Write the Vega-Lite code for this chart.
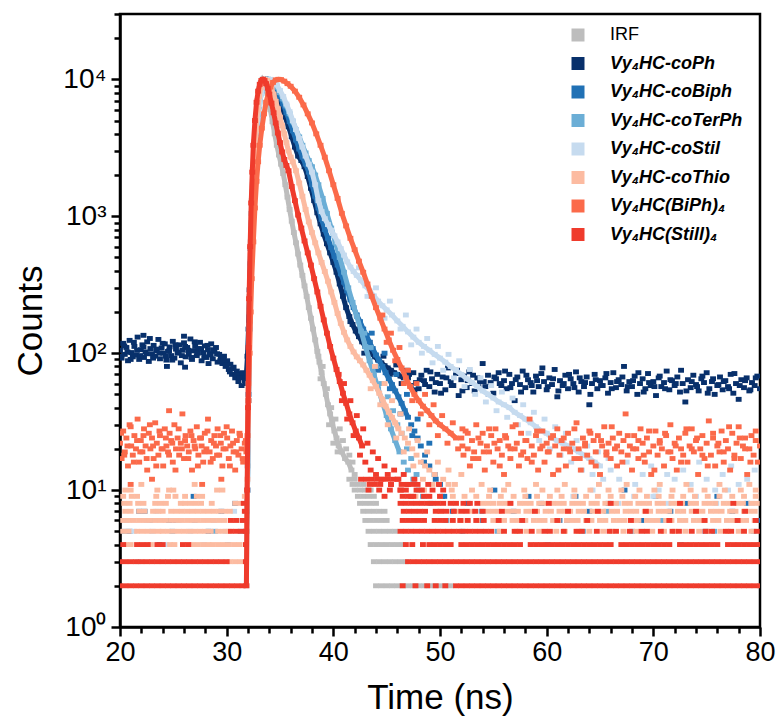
{
"$schema": "https://vega.github.io/schema/vega-lite/v6.json",
"width": 640, "height": 613,
"autosize": {"type": "none"},
"padding": {"left": 120, "top": 14, "right": 17, "bottom": 92},
"background": "white",
"config": {
 "view": {"stroke": "black", "strokeWidth": 2.5},
 "font": "Liberation Sans",
 "axis": {"domainColor": "black", "domainWidth": 2.5, "tickColor": "black", "tickWidth": 2.5, "labelColor": "black", "titleColor": "black", "grid": false, "labelFont": "Liberation Sans", "titleFont": "Liberation Sans", "titleFontWeight": "normal"}
},
"datasets": {
"irf_d": [{"t":31.85,"c":2},{"t":31.95,"c":15},{"t":32.05,"c":80},{"t":32.15,"c":260},{"t":32.25,"c":650},{"t":32.35,"c":1300},{"t":32.45,"c":2200},{"t":32.6,"c":3500},{"t":32.75,"c":5200},{"t":32.9,"c":7000},{"t":33.05,"c":8500},{"t":33.2,"c":9500},{"t":33.35,"c":10000},{"t":33.5,"c":9600},{"t":33.7,"c":8500},{"t":33.9,"c":7200},{"t":34.1,"c":6000},{"t":34.3,"c":4900},{"t":34.5,"c":4000},{"t":34.7,"c":3300},{"t":34.9,"c":2800},{"t":35.1,"c":2400},{"t":35.3,"c":2050},{"t":35.5,"c":1700},{"t":35.7,"c":1380},{"t":35.9,"c":1120},{"t":36.1,"c":920},{"t":36.3,"c":760},{"t":36.5,"c":640},{"t":36.7,"c":530},{"t":36.9,"c":440},{"t":37.1,"c":370},{"t":37.3,"c":310},{"t":37.5,"c":260},{"t":37.7,"c":215},{"t":37.9,"c":180},{"t":38.1,"c":150},{"t":38.3,"c":125},{"t":38.5,"c":103},{"t":38.7,"c":86},{"t":38.9,"c":72},{"t":39.1,"c":60},{"t":39.3,"c":50},{"t":39.5,"c":42},{"t":39.7,"c":36},{"t":39.9,"c":31},{"t":40.1,"c":27},{"t":40.3,"c":24},{"t":40.5,"c":21},{"t":40.8,"c":19},{"t":41.1,"c":17},{"t":41.4,"c":16},{"t":41.7,"c":14}],
"irf": [{"t":42,"c":13},{"t":38.6,"c":95},{"t":38.8,"c":65},{"t":39,"c":80},{"t":39.4,"c":55},{"t":39.6,"c":30},{"t":39.8,"c":40},{"t":40,"c":22},{"t":40.2,"c":33},{"t":40.4,"c":19},{"t":40.6,"c":28},{"t":40.9,"c":23},{"t":41.2,"c":20},{"t":41.5,"c":18},{"t":41.8,"c":16},
{"t":41.5,"c":12},{"t":42,"c":12},{"t":41.8,"c":11},{"t":42.3,"c":11},{"t":42.8,"c":11},{"t":42,"c":10},{"t":42.5,"c":10},{"t":43,"c":10},{"t":43.5,"c":10},{"t":42.3,"c":9},{"t":42.8,"c":9},{"t":43.3,"c":9},{"t":43.8,"c":9},{"t":42.5,"c":8},{"t":43,"c":8},{"t":43.5,"c":8},{"t":44,"c":8},{"t":42.8,"c":7},{"t":43.3,"c":7},{"t":43.8,"c":7},{"t":44.3,"c":7},{"t":44.8,"c":7},{"t":43,"c":6},{"t":43.5,"c":6},{"t":44,"c":6},{"t":44.5,"c":6},{"t":45,"c":6},{"t":43.3,"c":5},{"t":43.8,"c":5},{"t":44.3,"c":5},{"t":44.8,"c":5},{"t":45.3,"c":5},{"t":45.8,"c":5},{"t":43.5,"c":4},{"t":44,"c":4},{"t":44.5,"c":4},{"t":45,"c":4},{"t":45.5,"c":4},{"t":46,"c":4},{"t":46.5,"c":4},{"t":43.8,"c":3},{"t":44.3,"c":3},{"t":44.8,"c":3},{"t":45.3,"c":3},{"t":45.8,"c":3},{"t":46.3,"c":3},{"t":46.8,"c":3},{"t":44,"c":2},{"t":44.5,"c":2},{"t":45,"c":2},{"t":45.5,"c":2},{"t":46,"c":2},{"t":46.5,"c":2},{"t":47,"c":2},{"t":47.5,"c":2},{"t":48,"c":2},{"t":48.5,"c":2},{"t":49,"c":2},{"t":49.5,"c":2},{"t":50,"c":2},{"t":50.5,"c":2},{"t":51,"c":2}],
"ph_d": [{"t":31.85,"c":70},{"t":31.95,"c":95},{"t":32.05,"c":150},{"t":32.15,"c":290},{"t":32.25,"c":580},{"t":32.35,"c":1050},{"t":32.5,"c":1900},{"t":32.65,"c":3100},{"t":32.8,"c":4600},{"t":32.95,"c":6100},{"t":33.1,"c":7500},{"t":33.3,"c":8900},{"t":33.5,"c":9700},{"t":33.7,"c":10000},{"t":34,"c":9800},{"t":34.3,"c":9100},{"t":34.6,"c":8200},{"t":34.9,"c":7200},{"t":35.2,"c":6200},{"t":35.5,"c":5300},{"t":35.8,"c":4500},{"t":36.1,"c":3800},{"t":36.4,"c":3200},{"t":36.7,"c":2750},{"t":37,"c":2550},{"t":37.3,"c":2300},{"t":37.6,"c":1950},{"t":37.9,"c":1600},{"t":38.2,"c":1300},{"t":38.5,"c":1060},{"t":38.8,"c":880},{"t":39.1,"c":740},{"t":39.4,"c":630},{"t":39.7,"c":540},{"t":40,"c":460},{"t":40.3,"c":390},{"t":40.6,"c":320},{"t":40.9,"c":260},{"t":41.2,"c":215},{"t":41.5,"c":185},{"t":41.8,"c":162},{"t":42.1,"c":145},{"t":42.4,"c":132},{"t":42.7,"c":121},{"t":43,"c":112},{"t":43.3,"c":105},{"t":43.6,"c":99},{"t":43.9,"c":94},{"t":44.2,"c":89},{"t":44.5,"c":85},{"t":44.8,"c":81},{"t":45.1,"c":78},{"t":45.4,"c":75},{"t":45.7,"c":72},{"t":46,"c":70},{"t":46.3,"c":68},{"t":46.6,"c":66}],
"ph": [{"t":20,"c":105},{"t":20.15,"c":92},{"t":20.3,"c":118},{"t":20.45,"c":98},{"t":20.6,"c":110},{"t":20.75,"c":88},{"t":20.9,"c":124},{"t":21.05,"c":101},{"t":21.2,"c":94},{"t":21.35,"c":112},{"t":21.5,"c":97},{"t":21.65,"c":131},{"t":21.8,"c":90},{"t":21.95,"c":106},{"t":22.1,"c":115},{"t":22.25,"c":93},{"t":22.4,"c":102},{"t":22.55,"c":121},{"t":22.7,"c":87},{"t":22.85,"c":108},{"t":23,"c":99},{"t":23.15,"c":114},{"t":23.3,"c":95},{"t":23.45,"c":104},{"t":23.6,"c":126},{"t":23.75,"c":91},{"t":23.9,"c":109},{"t":24.05,"c":100},{"t":24.2,"c":117},{"t":24.35,"c":89},{"t":24.5,"c":103},{"t":24.65,"c":111},{"t":24.8,"c":96},{"t":24.95,"c":122},{"t":25.1,"c":92},{"t":25.25,"c":107},{"t":25.4,"c":100},{"t":25.55,"c":115},{"t":25.7,"c":85},{"t":25.85,"c":105},{"t":26,"c":119},{"t":26.15,"c":94},{"t":26.3,"c":110},{"t":26.45,"c":98},{"t":26.6,"c":127},{"t":26.75,"c":90},{"t":26.9,"c":104},{"t":27.05,"c":112},{"t":27.2,"c":96},{"t":27.35,"c":108},{"t":27.5,"c":120},{"t":27.65,"c":88},{"t":27.8,"c":101},{"t":27.95,"c":113},{"t":28.1,"c":93},{"t":28.25,"c":106},{"t":28.4,"c":99},{"t":28.55,"c":117},{"t":28.7,"c":91},{"t":28.85,"c":103},{"t":29,"c":110},{"t":29.15,"c":86},{"t":29.3,"c":98},{"t":29.45,"c":92},{"t":29.6,"c":84},{"t":29.75,"c":95},{"t":29.9,"c":80},{"t":30.05,"c":88},{"t":30.2,"c":76},{"t":30.35,"c":83},{"t":30.5,"c":70},{"t":30.65,"c":79},{"t":30.8,"c":66},{"t":30.95,"c":74},{"t":31.1,"c":62},{"t":31.25,"c":71},{"t":31.4,"c":58},{"t":31.55,"c":67},{"t":31.7,"c":63},{"t":22.2,"c":135},{"t":26,"c":133},{"t":26.1,"c":79},{"t":24.4,"c":80},{"t":28.3,"c":84},
{"t":20.1,"c":95},{"t":20.4,"c":113},{"t":20.7,"c":102},{"t":21,"c":90},{"t":21.3,"c":120},{"t":21.6,"c":105},{"t":21.9,"c":96},{"t":22.2,"c":111},{"t":22.5,"c":99},{"t":22.8,"c":128},{"t":23.1,"c":92},{"t":23.4,"c":107},{"t":23.7,"c":100},{"t":24,"c":118},{"t":24.3,"c":95},{"t":24.6,"c":104},{"t":24.9,"c":89},{"t":25.2,"c":115},{"t":25.5,"c":102},{"t":25.8,"c":96},{"t":26.1,"c":112},{"t":26.4,"c":105},{"t":26.7,"c":93},{"t":27,"c":121},{"t":27.3,"c":100},{"t":27.6,"c":108},{"t":27.9,"c":94},{"t":28.2,"c":114},{"t":28.5,"c":97},{"t":28.8,"c":106},{"t":29.1,"c":99},{"t":29.4,"c":88},{"t":29.7,"c":90},{"t":30,"c":82},{"t":30.3,"c":73},{"t":30.6,"c":77},{"t":30.9,"c":69},{"t":31.2,"c":66},{"t":31.5,"c":72},{"t":31.8,"c":60},
{"t":41,"c":280},{"t":41.6,"c":170},{"t":42.2,"c":150},{"t":42.9,"c":100},{"t":43.4,"c":120},{"t":44,"c":80},{"t":44.7,"c":95},{"t":45.3,"c":70},{"t":45.9,"c":82},{"t":46.4,"c":60},{"t":46.9,"c":75},
{"t":47,"c":66},{"t":47.25,"c":58},{"t":47.5,"c":72},{"t":47.75,"c":61},{"t":48,"c":55},{"t":48.25,"c":69},{"t":48.5,"c":63},{"t":48.75,"c":75},{"t":49,"c":57},{"t":49.25,"c":65},{"t":49.5,"c":52},{"t":49.75,"c":70},{"t":50,"c":60},{"t":50.25,"c":67},{"t":50.5,"c":54},{"t":50.75,"c":78},{"t":51,"c":62},{"t":51.25,"c":58},{"t":51.5,"c":71},{"t":51.75,"c":49},{"t":52,"c":64},{"t":52.25,"c":68},{"t":52.5,"c":56},{"t":52.75,"c":73},{"t":53,"c":60},{"t":53.25,"c":53},{"t":53.5,"c":66},{"t":53.75,"c":62},{"t":54,"c":84},{"t":54.25,"c":57},{"t":54.5,"c":69},{"t":54.75,"c":61},{"t":55,"c":51},{"t":55.25,"c":65},{"t":55.5,"c":72},{"t":55.75,"c":58},{"t":56,"c":63},{"t":56.25,"c":55},{"t":56.5,"c":70},{"t":56.75,"c":60},{"t":57,"c":45},{"t":57.25,"c":67},{"t":57.5,"c":59},{"t":57.75,"c":74},{"t":58,"c":56},{"t":58.25,"c":64},{"t":58.5,"c":61},{"t":58.75,"c":52},{"t":59,"c":68},{"t":59.25,"c":57},{"t":59.5,"c":71},{"t":59.75,"c":62},{"t":60,"c":54},{"t":60.25,"c":66},{"t":60.5,"c":59},{"t":60.75,"c":76},{"t":61,"c":48},{"t":61.25,"c":63},{"t":61.5,"c":58},{"t":61.75,"c":69},{"t":62,"c":55},{"t":62.25,"c":65},{"t":62.5,"c":60},{"t":62.75,"c":73},{"t":63,"c":52},{"t":63.25,"c":62},{"t":63.5,"c":57},{"t":63.75,"c":67},{"t":64,"c":42},{"t":64.25,"c":60},{"t":64.5,"c":70},{"t":64.75,"c":55},{"t":65,"c":63},{"t":65.25,"c":58},{"t":65.5,"c":66},{"t":65.75,"c":51},{"t":66,"c":61},{"t":66.25,"c":72},{"t":66.5,"c":56},{"t":66.75,"c":64},{"t":67,"c":59},{"t":67.25,"c":80},{"t":67.5,"c":53},{"t":67.75,"c":62},{"t":68,"c":57},{"t":68.25,"c":68},{"t":68.5,"c":50},{"t":68.75,"c":60},{"t":69,"c":65},{"t":69.25,"c":55},{"t":69.5,"c":71},{"t":69.75,"c":58},{"t":70,"c":62},{"t":70.25,"c":49},{"t":70.5,"c":66},{"t":70.75,"c":57},{"t":71,"c":61},{"t":71.25,"c":74},{"t":71.5,"c":54},{"t":71.75,"c":63},{"t":72,"c":58},{"t":72.25,"c":67},{"t":72.5,"c":52},{"t":72.75,"c":60},{"t":73,"c":44},{"t":73.25,"c":64},{"t":73.5,"c":56},{"t":73.75,"c":69},{"t":74,"c":59},{"t":74.25,"c":53},{"t":74.5,"c":65},{"t":74.75,"c":61},{"t":75,"c":72},{"t":75.25,"c":55},{"t":75.5,"c":62},{"t":75.75,"c":50},{"t":76,"c":58},{"t":76.25,"c":67},{"t":76.5,"c":54},{"t":76.75,"c":63},{"t":77,"c":57},{"t":77.25,"c":70},{"t":77.5,"c":51},{"t":77.75,"c":60},{"t":78,"c":46},{"t":78.25,"c":64},{"t":78.5,"c":56},{"t":78.75,"c":66},{"t":79,"c":53},{"t":79.25,"c":61},{"t":79.5,"c":58},{"t":79.75,"c":68},{"t":80,"c":55},
{"t":47.1,"c":70},{"t":47.6,"c":54},{"t":48.1,"c":64},{"t":48.6,"c":59},{"t":49.1,"c":73},{"t":49.6,"c":61},{"t":50.1,"c":51},{"t":50.6,"c":66},{"t":51.1,"c":58},{"t":51.6,"c":75},{"t":52.1,"c":53},{"t":52.6,"c":63},{"t":53.1,"c":69},{"t":53.6,"c":57},{"t":54.1,"c":62},{"t":54.6,"c":50},{"t":55.1,"c":67},{"t":55.6,"c":60},{"t":56.1,"c":74},{"t":56.6,"c":56},{"t":57.1,"c":64},{"t":57.6,"c":52},{"t":58.1,"c":69},{"t":58.6,"c":58},{"t":59.1,"c":63},{"t":59.6,"c":78},{"t":60.1,"c":57},{"t":60.6,"c":65},{"t":61.1,"c":53},{"t":61.6,"c":60},{"t":62.1,"c":70},{"t":62.6,"c":56},{"t":63.1,"c":66},{"t":63.6,"c":61},{"t":64.1,"c":50},{"t":64.6,"c":64},{"t":65.1,"c":58},{"t":65.6,"c":71},{"t":66.1,"c":55},{"t":66.6,"c":62},{"t":67.1,"c":67},{"t":67.6,"c":57},{"t":68.1,"c":63},{"t":68.6,"c":72},{"t":69.1,"c":52},{"t":69.6,"c":61},{"t":70.1,"c":57},{"t":70.6,"c":68},{"t":71.1,"c":55},{"t":71.6,"c":64},{"t":72.1,"c":60},{"t":72.6,"c":75},{"t":73.1,"c":53},{"t":73.6,"c":62},{"t":74.1,"c":57},{"t":74.6,"c":68},{"t":75.1,"c":51},{"t":75.6,"c":65},{"t":76.1,"c":59},{"t":76.6,"c":62},{"t":77.1,"c":55},{"t":77.6,"c":71},{"t":78.1,"c":58},{"t":78.6,"c":63},{"t":79.1,"c":54},{"t":79.6,"c":66}],
"bi_d": [{"t":31.85,"c":7},{"t":31.95,"c":10},{"t":32.05,"c":50},{"t":32.15,"c":170},{"t":32.25,"c":450},{"t":32.35,"c":900},{"t":32.45,"c":1500},{"t":32.6,"c":2500},{"t":32.75,"c":3900},{"t":32.9,"c":5400},{"t":33.05,"c":6800},{"t":33.25,"c":8200},{"t":33.45,"c":9200},{"t":33.65,"c":9800},{"t":33.85,"c":10000},{"t":34.1,"c":9800},{"t":34.4,"c":9200},{"t":34.7,"c":8400},{"t":35,"c":7500},{"t":35.3,"c":6600},{"t":35.6,"c":5700},{"t":35.9,"c":4900},{"t":36.2,"c":4200},{"t":36.5,"c":3600},{"t":36.8,"c":3100},{"t":37.1,"c":2700},{"t":37.4,"c":2400},{"t":37.7,"c":2100},{"t":38,"c":1700},{"t":38.3,"c":1400},{"t":38.6,"c":1150},{"t":38.9,"c":950},{"t":39.2,"c":800},{"t":39.5,"c":690},{"t":39.8,"c":590},{"t":40.1,"c":510},{"t":40.4,"c":440},{"t":40.7,"c":380},{"t":41,"c":330},{"t":41.3,"c":285},{"t":41.6,"c":245},{"t":41.9,"c":215},{"t":42.2,"c":190},{"t":42.5,"c":170},{"t":42.8,"c":150},{"t":43.1,"c":135},{"t":43.4,"c":120},{"t":43.7,"c":108},{"t":44,"c":97},{"t":44.3,"c":88},{"t":44.6,"c":80},{"t":44.9,"c":72},{"t":45.2,"c":65},{"t":45.5,"c":59},{"t":45.8,"c":53},{"t":46.1,"c":48},{"t":46.4,"c":43},{"t":46.7,"c":38},{"t":47,"c":34}],
"bi": [{"t":20.9,"c":5},{"t":21.8,"c":7},{"t":22.3,"c":7},{"t":23.7,"c":4},{"t":24.6,"c":6},{"t":25.2,"c":6},{"t":26.9,"c":9},{"t":28.3,"c":5},{"t":29.5,"c":7},{"t":30.8,"c":8},{"t":31.6,"c":6},
{"t":47.3,"c":30},{"t":47.6,"c":27},{"t":47.9,"c":24},{"t":48.2,"c":21},{"t":48.6,"c":18},{"t":49,"c":15},{"t":49.5,"c":13},{"t":50,"c":11},{"t":43.6,"c":140},{"t":44.2,"c":75},{"t":44.8,"c":100},{"t":45.3,"c":55},{"t":45.9,"c":70},{"t":46.3,"c":36},{"t":46.9,"c":50},{"t":47.4,"c":25},{"t":47.9,"c":33},{"t":48.5,"c":16},{"t":49,"c":22},{"t":49.6,"c":12},{"t":50.2,"c":9},
{"t":50.4,"c":9},{"t":51.2,"c":7},{"t":52.6,"c":8},{"t":53.8,"c":6},{"t":55.1,"c":10},{"t":56.9,"c":7},{"t":58.3,"c":9},{"t":59.5,"c":8},{"t":61.2,"c":6},{"t":62.7,"c":9},{"t":64,"c":7},{"t":65.8,"c":8},{"t":67.3,"c":10},{"t":68.9,"c":6},{"t":70.2,"c":9},{"t":71.6,"c":7},{"t":73.1,"c":8},{"t":74.9,"c":5},{"t":76,"c":9},{"t":77.4,"c":7},{"t":78.8,"c":8},{"t":79.9,"c":6}],
"te_d": [{"t":31.85,"c":5},{"t":31.95,"c":10},{"t":32.05,"c":45},{"t":32.15,"c":150},{"t":32.25,"c":400},{"t":32.35,"c":800},{"t":32.45,"c":1350},{"t":32.6,"c":2300},{"t":32.75,"c":3600},{"t":32.9,"c":5000},{"t":33.05,"c":6400},{"t":33.25,"c":7900},{"t":33.45,"c":9000},{"t":33.65,"c":9700},{"t":33.85,"c":10000},{"t":34.1,"c":9900},{"t":34.4,"c":9500},{"t":34.7,"c":8800},{"t":35,"c":8000},{"t":35.3,"c":7200},{"t":35.6,"c":6400},{"t":35.9,"c":5600},{"t":36.2,"c":4900},{"t":36.5,"c":4300},{"t":36.8,"c":3800},{"t":37.1,"c":3300},{"t":37.4,"c":2900},{"t":37.7,"c":2550},{"t":38,"c":2300},{"t":38.3,"c":2000},{"t":38.6,"c":1700},{"t":39,"c":1350},{"t":39.4,"c":1050},{"t":39.8,"c":820},{"t":40.2,"c":640},{"t":40.6,"c":500},{"t":41,"c":390},{"t":41.4,"c":300},{"t":41.8,"c":235},{"t":42.2,"c":185},{"t":42.6,"c":145},{"t":43,"c":112},{"t":43.4,"c":88},{"t":43.8,"c":70},{"t":44.2,"c":55},{"t":44.6,"c":44},{"t":45,"c":35},{"t":45.4,"c":28},{"t":45.8,"c":23},{"t":46.2,"c":19}],
"te": [{"t":20.4,"c":5},{"t":22.8,"c":6},{"t":24.9,"c":5},{"t":27,"c":6},{"t":28.9,"c":5},{"t":30.1,"c":4},{"t":31.3,"c":5},
{"t":46.6,"c":16},{"t":47,"c":14},{"t":47.5,"c":12},{"t":48,"c":10},{"t":42.9,"c":140},{"t":43.5,"c":110},{"t":44,"c":80},{"t":44.5,"c":60},{"t":45.1,"c":48},{"t":45.6,"c":38},{"t":46,"c":30},{"t":46.4,"c":26},{"t":46.9,"c":20},{"t":47.3,"c":17},{"t":47.8,"c":13},{"t":48.4,"c":9},{"t":49.1,"c":8},
{"t":50.6,"c":6},{"t":52.1,"c":5},{"t":53.9,"c":7},{"t":55.4,"c":5},{"t":57.8,"c":6},{"t":60.1,"c":4},{"t":61.9,"c":6},{"t":63.4,"c":5},{"t":65.6,"c":7},{"t":68,"c":5},{"t":70.9,"c":6},{"t":72.6,"c":4},{"t":75.7,"c":5},{"t":77.9,"c":6},{"t":79.4,"c":5}],
"sl_d": [{"t":31.85,"c":6},{"t":31.95,"c":10},{"t":32.05,"c":45},{"t":32.15,"c":160},{"t":32.25,"c":420},{"t":32.35,"c":850},{"t":32.45,"c":1400},{"t":32.6,"c":2400},{"t":32.75,"c":3700},{"t":32.9,"c":5100},{"t":33.05,"c":6500},{"t":33.25,"c":7900},{"t":33.45,"c":8900},{"t":33.65,"c":9500},{"t":33.85,"c":9900},{"t":34.1,"c":10000},{"t":34.4,"c":9700},{"t":34.7,"c":9100},{"t":35,"c":8300},{"t":35.3,"c":7500},{"t":35.6,"c":6600},{"t":35.9,"c":5800},{"t":36.2,"c":5000},{"t":36.5,"c":4300},{"t":36.8,"c":3700},{"t":37.1,"c":3200},{"t":37.4,"c":2750},{"t":37.7,"c":2400},{"t":38,"c":2100},{"t":38.3,"c":1700},{"t":38.6,"c":1300},{"t":38.9,"c":1080},{"t":39.2,"c":960},{"t":39.5,"c":870},{"t":39.8,"c":790},{"t":40.1,"c":720},{"t":40.4,"c":650},{"t":40.7,"c":580},{"t":41,"c":520},{"t":41.3,"c":465},{"t":41.6,"c":425},{"t":41.9,"c":395},{"t":42.2,"c":370},{"t":42.6,"c":340},{"t":43,"c":310},{"t":43.4,"c":285},{"t":43.8,"c":262},{"t":44.2,"c":240},{"t":44.6,"c":222},{"t":45,"c":207},{"t":45.5,"c":190},{"t":46,"c":172},{"t":46.5,"c":157},{"t":47,"c":143},{"t":47.5,"c":131},{"t":48,"c":120},{"t":48.5,"c":112},{"t":49,"c":105},{"t":49.5,"c":98},{"t":50,"c":92},{"t":50.5,"c":86},{"t":51,"c":80},{"t":51.5,"c":75},{"t":52,"c":70},{"t":52.5,"c":65},{"t":53,"c":61},{"t":53.5,"c":57},{"t":54,"c":53},{"t":54.5,"c":50},{"t":55,"c":47},{"t":55.5,"c":44},{"t":56,"c":42},{"t":56.5,"c":40},{"t":57,"c":37},{"t":57.5,"c":35},{"t":58,"c":33},{"t":58.5,"c":31},{"t":59,"c":29},{"t":59.5,"c":27},{"t":60,"c":26},{"t":60.5,"c":24},{"t":61,"c":23},{"t":61.5,"c":22},{"t":62,"c":21},{"t":62.5,"c":20},{"t":63,"c":19},{"t":63.5,"c":18},{"t":64,"c":17},{"t":64.5,"c":16},{"t":65,"c":15}],
"sl": [{"t":20.6,"c":6},{"t":21.3,"c":5},{"t":21.7,"c":3},{"t":22.5,"c":6},{"t":23,"c":5},{"t":23.4,"c":7},{"t":24.3,"c":4},{"t":25.5,"c":6},{"t":26.6,"c":5},{"t":27.9,"c":4},{"t":28.8,"c":6},{"t":29.9,"c":5},{"t":30.7,"c":7},{"t":31.5,"c":6},
{"t":42.4,"c":420},{"t":43.2,"c":260},{"t":44,"c":300},{"t":44.8,"c":180},{"t":45.3,"c":240},{"t":46.3,"c":150},{"t":46.8,"c":190},{"t":47.3,"c":115},{"t":47.8,"c":150},{"t":48.3,"c":100},{"t":48.8,"c":128},{"t":49.3,"c":85},{"t":49.8,"c":112},{"t":50.3,"c":75},{"t":50.8,"c":98},{"t":51.3,"c":66},{"t":51.8,"c":88},{"t":52.3,"c":57},{"t":52.8,"c":76},{"t":53.3,"c":50},{"t":53.8,"c":66},{"t":54.3,"c":44},{"t":54.8,"c":58},{"t":55.3,"c":38},{"t":55.8,"c":52},{"t":56.3,"c":34},{"t":56.8,"c":47},{"t":57.3,"c":30},{"t":57.8,"c":42},{"t":58.3,"c":26},{"t":58.8,"c":37},{"t":59.3,"c":23},{"t":59.8,"c":33},{"t":60.3,"c":20},{"t":60.8,"c":29},{"t":61.3,"c":18},{"t":61.8,"c":26},{"t":62.3,"c":16},{"t":62.8,"c":23},{"t":63.3,"c":14},{"t":63.8,"c":21},{"t":64.3,"c":13},{"t":64.8,"c":19},{"t":65.3,"c":12},{"t":65.8,"c":17},
{"t":66,"c":14},{"t":66.8,"c":12},{"t":67.5,"c":16},{"t":68.3,"c":11},{"t":69,"c":13},{"t":69.8,"c":15},{"t":70.5,"c":10},{"t":71.3,"c":13},{"t":72,"c":12},{"t":72.8,"c":14},{"t":73.5,"c":11},{"t":74.3,"c":16},{"t":75,"c":12},{"t":75.8,"c":10},{"t":76.5,"c":13},{"t":77.3,"c":15},{"t":78,"c":11},{"t":78.8,"c":12},{"t":79.5,"c":14},{"t":62.5,"c":9},{"t":64.3,"c":10},{"t":68.2,"c":9},{"t":71.4,"c":8},{"t":74,"c":9},{"t":77,"c":10},{"t":79.2,"c":8},{"t":66.7,"c":8},{"t":70,"c":9},{"t":75.9,"c":8}],
"th_d": [{"t":31.85,"c":5},{"t":31.95,"c":12},{"t":32.05,"c":60},{"t":32.15,"c":200},{"t":32.25,"c":520},{"t":32.35,"c":1000},{"t":32.45,"c":1700},{"t":32.6,"c":2800},{"t":32.75,"c":4300},{"t":32.9,"c":6000},{"t":33.05,"c":7500},{"t":33.2,"c":8700},{"t":33.4,"c":9600},{"t":33.6,"c":10000},{"t":33.8,"c":9800},{"t":34,"c":9300},{"t":34.2,"c":8600},{"t":34.4,"c":7800},{"t":34.6,"c":6900},{"t":34.8,"c":6100},{"t":35,"c":5300},{"t":35.2,"c":4600},{"t":35.4,"c":4000},{"t":35.6,"c":3450},{"t":35.8,"c":3000},{"t":36,"c":2700},{"t":36.2,"c":2500},{"t":36.5,"c":2150},{"t":36.8,"c":1750},{"t":37.1,"c":1400},{"t":37.4,"c":1120},{"t":37.7,"c":910},{"t":38,"c":760},{"t":38.3,"c":640},{"t":38.6,"c":540},{"t":38.9,"c":460},{"t":39.2,"c":395},{"t":39.5,"c":335},{"t":39.8,"c":280},{"t":40.1,"c":235},{"t":40.4,"c":195},{"t":40.7,"c":165},{"t":41,"c":142},{"t":41.3,"c":125},{"t":41.6,"c":112},{"t":41.9,"c":102},{"t":42.2,"c":94},{"t":42.5,"c":88},{"t":42.8,"c":82},{"t":43.1,"c":75},{"t":43.4,"c":69},{"t":43.7,"c":63},{"t":44,"c":57},{"t":44.3,"c":51},{"t":44.6,"c":46},{"t":44.9,"c":41},{"t":45.2,"c":37},{"t":45.5,"c":34},{"t":45.8,"c":31},{"t":46.1,"c":28}],
"th": [{"t":22,"c":11},{"t":27,"c":11},{"t":20.5,"c":10},{"t":21,"c":10},{"t":23.5,"c":10},{"t":24.6,"c":10},{"t":25,"c":10},{"t":29.1,"c":10},{"t":29.6,"c":10},{"t":20.3,"c":9},{"t":21.1,"c":9},{"t":21.6,"c":9},{"t":23.4,"c":9},{"t":24.5,"c":9},{"t":25.2,"c":9},{"t":26.1,"c":9},{"t":27.2,"c":9},{"t":27.7,"c":9},{"t":31.7,"c":9},{"t":20.4,"c":8},{"t":20.9,"c":8},{"t":21.7,"c":8},{"t":22.2,"c":8},{"t":23.3,"c":8},{"t":23.8,"c":8},{"t":24.3,"c":8},{"t":25.7,"c":8},{"t":26.1,"c":8},{"t":26.6,"c":8},{"t":27.1,"c":8},{"t":27.6,"c":8},{"t":28.6,"c":8},{"t":30.8,"c":8},{"t":31.3,"c":8},{"t":20.5,"c":7},{"t":21,"c":7},{"t":21.8,"c":7},{"t":22.3,"c":7},{"t":23.1,"c":7},{"t":23.6,"c":7},{"t":24,"c":7},{"t":24.8,"c":7},{"t":25.3,"c":7},{"t":25.8,"c":7},{"t":26.3,"c":7},{"t":26.8,"c":7},{"t":27.3,"c":7},{"t":27.8,"c":7},{"t":28.3,"c":7},{"t":28.8,"c":7},{"t":29.3,"c":7},{"t":29.8,"c":7},{"t":30.3,"c":7},{"t":20.3,"c":6},{"t":20.8,"c":6},{"t":21.3,"c":6},{"t":21.8,"c":6},{"t":22.3,"c":6},{"t":22.8,"c":6},{"t":23.3,"c":6},{"t":23.8,"c":6},{"t":24.3,"c":6},{"t":24.8,"c":6},{"t":25.3,"c":6},{"t":25.8,"c":6},{"t":26.3,"c":6},{"t":26.8,"c":6},{"t":27.3,"c":6},{"t":27.8,"c":6},{"t":28.3,"c":6},{"t":28.8,"c":6},{"t":29.3,"c":6},{"t":29.8,"c":6},{"t":20.3,"c":5},{"t":20.8,"c":5},{"t":21.6,"c":5},{"t":22.1,"c":5},{"t":22.6,"c":5},{"t":23.1,"c":5},{"t":23.6,"c":5},{"t":24,"c":5},{"t":24.5,"c":5},{"t":25,"c":5},{"t":25.5,"c":5},{"t":26,"c":5},{"t":26.5,"c":5},{"t":27,"c":5},{"t":27.5,"c":5},{"t":28,"c":5},{"t":28.5,"c":5},{"t":29.2,"c":5},{"t":29.7,"c":5},{"t":30.2,"c":5},{"t":20.6,"c":4},{"t":21,"c":4},{"t":22.9,"c":4},{"t":24.7,"c":4},{"t":25.1,"c":4},{"t":26.8,"c":4},{"t":27.3,"c":4},{"t":27.8,"c":4},{"t":28.3,"c":4},{"t":28.7,"c":4},{"t":29.2,"c":4},{"t":29.7,"c":4},{"t":30.2,"c":4},{"t":30.7,"c":4},{"t":31.2,"c":4},{"t":30.3,"c":3},{"t":30.8,"c":3},{"t":31.3,"c":3},
{"t":46.4,"c":26},{"t":46.7,"c":24},{"t":47,"c":22},{"t":47.4,"c":20},{"t":47.8,"c":18},{"t":48.2,"c":16},{"t":48.6,"c":15},{"t":49,"c":14},{"t":49.5,"c":13},{"t":43.5,"c":55},{"t":43.9,"c":80},{"t":44.4,"c":42},{"t":44.8,"c":60},{"t":45.1,"c":30},{"t":45.5,"c":45},{"t":45.9,"c":24},{"t":46.3,"c":36},{"t":46.6,"c":19},{"t":47.1,"c":28},{"t":47.5,"c":15},{"t":47.9,"c":23},{"t":48.4,"c":12},{"t":48.8,"c":19},{"t":49.3,"c":11},{"t":49.8,"c":16},{"t":50.3,"c":12},{"t":50.8,"c":14},{"t":51.4,"c":11},{"t":52,"c":13},
{"t":50.8,"c":11},{"t":53.9,"c":11},{"t":56.4,"c":11},{"t":59,"c":11},{"t":61.7,"c":11},{"t":64.9,"c":11},{"t":67.5,"c":11},{"t":70.6,"c":11},{"t":73.1,"c":11},{"t":76.2,"c":11},{"t":79,"c":11},{"t":48.5,"c":10},{"t":51.1,"c":10},{"t":53,"c":10},{"t":54.7,"c":10},{"t":56,"c":10},{"t":57.9,"c":10},{"t":59.6,"c":10},{"t":61,"c":10},{"t":62.6,"c":10},{"t":64.1,"c":10},{"t":65.8,"c":10},{"t":67,"c":10},{"t":68.7,"c":10},{"t":70.1,"c":10},{"t":71.8,"c":10},{"t":73.5,"c":10},{"t":74.8,"c":10},{"t":76.7,"c":10},{"t":78.2,"c":10},{"t":79.6,"c":10},{"t":47.7,"c":9},{"t":48.9,"c":9},{"t":50,"c":9},{"t":51.2,"c":9},{"t":52.3,"c":9},{"t":53.4,"c":9},{"t":54.6,"c":9},{"t":55.7,"c":9},{"t":56.9,"c":9},{"t":58,"c":9},{"t":59.1,"c":9},{"t":60.3,"c":9},{"t":61.4,"c":9},{"t":62.6,"c":9},{"t":63.7,"c":9},{"t":64.8,"c":9},{"t":66,"c":9},{"t":67.1,"c":9},{"t":68.3,"c":9},{"t":69.4,"c":9},{"t":70.5,"c":9},{"t":71.7,"c":9},{"t":72.8,"c":9},{"t":73.9,"c":9},{"t":75.1,"c":9},{"t":76.2,"c":9},{"t":77.4,"c":9},{"t":78.5,"c":9},{"t":79.6,"c":9},{"t":54,"c":8},{"t":54.5,"c":8},{"t":55,"c":8},{"t":55.6,"c":8},{"t":56.1,"c":8},{"t":56.6,"c":8},{"t":57.5,"c":8},{"t":58,"c":8},{"t":58.5,"c":8},{"t":59.3,"c":8},{"t":59.8,"c":8},{"t":60.6,"c":8},{"t":61.1,"c":8},{"t":61.6,"c":8},{"t":62.4,"c":8},{"t":62.9,"c":8},{"t":63.4,"c":8},{"t":64.2,"c":8},{"t":64.7,"c":8},{"t":65.5,"c":8},{"t":66,"c":8},{"t":66.5,"c":8},{"t":67.3,"c":8},{"t":67.8,"c":8},{"t":68.6,"c":8},{"t":69.1,"c":8},{"t":69.6,"c":8},{"t":70.4,"c":8},{"t":70.9,"c":8},{"t":71.7,"c":8},{"t":72.2,"c":8},{"t":72.7,"c":8},{"t":73.5,"c":8},{"t":74,"c":8},{"t":74.8,"c":8},{"t":75.3,"c":8},{"t":75.8,"c":8},{"t":76.6,"c":8},{"t":77.1,"c":8},{"t":77.9,"c":8},{"t":78.4,"c":8},{"t":79.2,"c":8},{"t":79.7,"c":8},{"t":50,"c":7},{"t":51.5,"c":7},{"t":53,"c":7},{"t":54.5,"c":7},{"t":55,"c":7},{"t":55.5,"c":7},{"t":56.3,"c":7},{"t":56.8,"c":7},{"t":57.3,"c":7},{"t":58.1,"c":7},{"t":58.6,"c":7},{"t":59.1,"c":7},{"t":59.9,"c":7},{"t":60.4,"c":7},{"t":61.2,"c":7},{"t":61.7,"c":7},{"t":62.2,"c":7},{"t":63,"c":7},{"t":63.5,"c":7},{"t":64.3,"c":7},{"t":64.8,"c":7},{"t":65.3,"c":7},{"t":66.1,"c":7},{"t":66.6,"c":7},{"t":67.4,"c":7},{"t":67.9,"c":7},{"t":68.4,"c":7},{"t":69.2,"c":7},{"t":69.7,"c":7},{"t":70.5,"c":7},{"t":71,"c":7},{"t":71.5,"c":7},{"t":72.3,"c":7},{"t":72.8,"c":7},{"t":73.6,"c":7},{"t":74.1,"c":7},{"t":74.6,"c":7},{"t":75.4,"c":7},{"t":75.9,"c":7},{"t":76.4,"c":7},{"t":77.2,"c":7},{"t":77.7,"c":7},{"t":78.5,"c":7},{"t":79,"c":7},{"t":79.5,"c":7},{"t":52,"c":6},{"t":53.5,"c":6},{"t":55,"c":6},{"t":55.5,"c":6},{"t":56,"c":6},{"t":56.8,"c":6},{"t":57.3,"c":6},{"t":58,"c":6},{"t":58.8,"c":6},{"t":59.3,"c":6},{"t":59.8,"c":6},{"t":60.6,"c":6},{"t":61.1,"c":6},{"t":61.9,"c":6},{"t":62.4,"c":6},{"t":62.9,"c":6},{"t":63.7,"c":6},{"t":64.2,"c":6},{"t":65,"c":6},{"t":65.5,"c":6},{"t":66.3,"c":6},{"t":66.8,"c":6},{"t":67.3,"c":6},{"t":68.1,"c":6},{"t":68.6,"c":6},{"t":69.4,"c":6},{"t":69.9,"c":6},{"t":70.4,"c":6},{"t":71.2,"c":6},{"t":71.7,"c":6},{"t":72.5,"c":6},{"t":73,"c":6},{"t":73.8,"c":6},{"t":74.3,"c":6},{"t":74.8,"c":6},{"t":75.6,"c":6},{"t":76.1,"c":6},{"t":76.9,"c":6},{"t":77.4,"c":6},{"t":78.2,"c":6},{"t":78.7,"c":6},{"t":79.5,"c":6},{"t":55.6,"c":5},{"t":57.2,"c":5},{"t":58.1,"c":5},{"t":59.3,"c":5},{"t":60.9,"c":5},{"t":61.7,"c":5},{"t":63,"c":5},{"t":64,"c":5},{"t":65.3,"c":5},{"t":66.1,"c":5},{"t":67.2,"c":5},{"t":68.4,"c":5},{"t":69.9,"c":5},{"t":71,"c":5},{"t":72,"c":5},{"t":73,"c":5},{"t":74.3,"c":5},{"t":75,"c":5},{"t":76.3,"c":5},{"t":77,"c":5},{"t":78,"c":5},{"t":79.2,"c":5}],
"b4_d": [{"t":31.85,"c":19},{"t":31.95,"c":25},{"t":32.05,"c":45},{"t":32.15,"c":100},{"t":32.25,"c":200},{"t":32.35,"c":350},{"t":32.5,"c":650},{"t":32.65,"c":1150},{"t":32.8,"c":1800},{"t":32.95,"c":2500},{"t":33.1,"c":3300},{"t":33.3,"c":4400},{"t":33.5,"c":5600},{"t":33.7,"c":6800},{"t":33.9,"c":7900},{"t":34.1,"c":8800},{"t":34.35,"c":9500},{"t":34.6,"c":9900},{"t":34.85,"c":10000},{"t":35.1,"c":9950},{"t":35.4,"c":9700},{"t":35.7,"c":9300},{"t":36,"c":8900},{"t":36.4,"c":8200},{"t":36.8,"c":7400},{"t":37.2,"c":6500},{"t":37.6,"c":5600},{"t":38,"c":4800},{"t":38.4,"c":4000},{"t":38.8,"c":3300},{"t":39.2,"c":2700},{"t":39.6,"c":2150},{"t":40,"c":1700},{"t":40.4,"c":1350},{"t":40.8,"c":1050},{"t":41.2,"c":850},{"t":41.6,"c":690},{"t":42,"c":570},{"t":42.4,"c":470},{"t":42.8,"c":390},{"t":43.2,"c":320},{"t":43.6,"c":260},{"t":44,"c":215},{"t":44.4,"c":180},{"t":44.8,"c":150},{"t":45.2,"c":125},{"t":45.6,"c":105},{"t":46,"c":90},{"t":46.4,"c":78},{"t":46.8,"c":66},{"t":47.2,"c":57},{"t":47.6,"c":50},{"t":48,"c":45},{"t":48.4,"c":41},{"t":48.8,"c":38},{"t":49.2,"c":35},{"t":49.6,"c":32},{"t":50,"c":30},{"t":50.5,"c":28},{"t":51,"c":26},{"t":51.5,"c":24}],
"b4": [{"t":20,"c":22},{"t":20.15,"c":17},{"t":20.3,"c":27},{"t":20.45,"c":19},{"t":20.6,"c":24},{"t":20.75,"c":15},{"t":20.9,"c":30},{"t":21.05,"c":21},{"t":21.2,"c":18},{"t":21.35,"c":25},{"t":21.5,"c":20},{"t":21.65,"c":33},{"t":21.8,"c":16},{"t":21.95,"c":23},{"t":22.1,"c":19},{"t":22.25,"c":28},{"t":22.4,"c":21},{"t":22.55,"c":14},{"t":22.7,"c":26},{"t":22.85,"c":20},{"t":23,"c":24},{"t":23.15,"c":17},{"t":23.3,"c":31},{"t":23.45,"c":22},{"t":23.6,"c":18},{"t":23.75,"c":25},{"t":23.9,"c":20},{"t":24.05,"c":15},{"t":24.2,"c":28},{"t":24.35,"c":21},{"t":24.5,"c":19},{"t":24.65,"c":26},{"t":24.8,"c":23},{"t":24.95,"c":16},{"t":25.1,"c":30},{"t":25.25,"c":20},{"t":25.4,"c":24},{"t":25.55,"c":18},{"t":25.7,"c":22},{"t":25.85,"c":36},{"t":26,"c":17},{"t":26.15,"c":25},{"t":26.3,"c":21},{"t":26.45,"c":19},{"t":26.6,"c":27},{"t":26.75,"c":14},{"t":26.9,"c":23},{"t":27.05,"c":20},{"t":27.2,"c":29},{"t":27.35,"c":18},{"t":27.5,"c":24},{"t":27.65,"c":21},{"t":27.8,"c":16},{"t":27.95,"c":26},{"t":28.1,"c":20},{"t":28.25,"c":33},{"t":28.4,"c":19},{"t":28.55,"c":23},{"t":28.7,"c":17},{"t":28.85,"c":25},{"t":29,"c":21},{"t":29.15,"c":28},{"t":29.3,"c":18},{"t":29.45,"c":22},{"t":29.6,"c":15},{"t":29.75,"c":26},{"t":29.9,"c":20},{"t":30.05,"c":24},{"t":30.2,"c":17},{"t":30.35,"c":21},{"t":30.5,"c":27},{"t":30.65,"c":19},{"t":30.8,"c":14},{"t":30.95,"c":23},{"t":31.1,"c":18},{"t":31.25,"c":25},{"t":31.4,"c":20},{"t":31.55,"c":16},{"t":31.7,"c":22},{"t":21,"c":11},{"t":23,"c":12},{"t":27.7,"c":11},{"t":29.5,"c":12},{"t":24.6,"c":38},
{"t":20.1,"c":26},{"t":20.4,"c":18},{"t":20.7,"c":21},{"t":21,"c":29},{"t":21.3,"c":16},{"t":21.6,"c":23},{"t":21.9,"c":19},{"t":22.2,"c":25},{"t":22.5,"c":17},{"t":22.8,"c":30},{"t":23.1,"c":21},{"t":23.4,"c":15},{"t":23.7,"c":27},{"t":24,"c":20},{"t":24.3,"c":24},{"t":24.6,"c":18},{"t":24.9,"c":22},{"t":25.2,"c":14},{"t":25.5,"c":28},{"t":25.8,"c":20},{"t":26.1,"c":23},{"t":26.4,"c":17},{"t":26.7,"c":25},{"t":27,"c":21},{"t":27.3,"c":15},{"t":27.6,"c":24},{"t":27.9,"c":19},{"t":28.2,"c":27},{"t":28.5,"c":16},{"t":28.8,"c":22},{"t":29.1,"c":18},{"t":29.4,"c":25},{"t":29.7,"c":20},{"t":30,"c":29},{"t":30.3,"c":15},{"t":30.6,"c":22},{"t":30.9,"c":19},{"t":31.2,"c":26},{"t":31.5,"c":17},{"t":31.8,"c":23},
{"t":44.6,"c":190},{"t":45,"c":120},{"t":45.4,"c":140},{"t":45.8,"c":88},{"t":46.2,"c":110},{"t":46.6,"c":60},{"t":47,"c":75},{"t":47.4,"c":45},{"t":47.8,"c":60},{"t":48.2,"c":36},{"t":48.6,"c":50},{"t":49,"c":30},{"t":49.4,"c":42},{"t":49.8,"c":25},{"t":50.2,"c":35},{"t":50.7,"c":22},{"t":51.2,"c":31},{"t":51.7,"c":20},{"t":52.1,"c":28},
{"t":52,"c":24},{"t":52.2,"c":18},{"t":52.4,"c":27},{"t":52.6,"c":20},{"t":52.8,"c":15},{"t":53,"c":23},{"t":53.2,"c":19},{"t":53.4,"c":30},{"t":53.6,"c":17},{"t":53.8,"c":22},{"t":54,"c":26},{"t":54.2,"c":14},{"t":54.4,"c":21},{"t":54.6,"c":19},{"t":54.8,"c":25},{"t":55,"c":16},{"t":55.2,"c":28},{"t":55.4,"c":20},{"t":55.6,"c":23},{"t":55.8,"c":18},{"t":56,"c":13},{"t":56.2,"c":24},{"t":56.4,"c":21},{"t":56.6,"c":17},{"t":56.8,"c":29},{"t":57,"c":20},{"t":57.2,"c":22},{"t":57.4,"c":15},{"t":57.6,"c":26},{"t":57.8,"c":19},{"t":58,"c":23},{"t":58.2,"c":17},{"t":58.4,"c":33},{"t":58.6,"c":21},{"t":58.8,"c":18},{"t":59,"c":25},{"t":59.2,"c":14},{"t":59.4,"c":20},{"t":59.6,"c":27},{"t":59.8,"c":16},{"t":60,"c":22},{"t":60.2,"c":19},{"t":60.4,"c":24},{"t":60.6,"c":13},{"t":60.8,"c":21},{"t":61,"c":28},{"t":61.2,"c":18},{"t":61.4,"c":23},{"t":61.6,"c":20},{"t":61.8,"c":15},{"t":62,"c":26},{"t":62.2,"c":19},{"t":62.4,"c":22},{"t":62.6,"c":17},{"t":62.8,"c":31},{"t":63,"c":20},{"t":63.2,"c":14},{"t":63.4,"c":24},{"t":63.6,"c":21},{"t":63.8,"c":18},{"t":64,"c":27},{"t":64.2,"c":16},{"t":64.4,"c":23},{"t":64.6,"c":19},{"t":64.8,"c":25},{"t":65,"c":13},{"t":65.2,"c":21},{"t":65.4,"c":29},{"t":65.6,"c":18},{"t":65.8,"c":22},{"t":66,"c":17},{"t":66.2,"c":24},{"t":66.4,"c":20},{"t":66.6,"c":15},{"t":66.8,"c":26},{"t":67,"c":19},{"t":67.2,"c":23},{"t":67.4,"c":36},{"t":67.6,"c":18},{"t":67.8,"c":21},{"t":68,"c":14},{"t":68.2,"c":25},{"t":68.4,"c":20},{"t":68.6,"c":17},{"t":68.8,"c":28},{"t":69,"c":22},{"t":69.2,"c":16},{"t":69.4,"c":24},{"t":69.6,"c":19},{"t":69.8,"c":13},{"t":70,"c":21},{"t":70.2,"c":27},{"t":70.4,"c":18},{"t":70.6,"c":23},{"t":70.8,"c":20},{"t":71,"c":15},{"t":71.2,"c":25},{"t":71.4,"c":19},{"t":71.6,"c":30},{"t":71.8,"c":17},{"t":72,"c":22},{"t":72.2,"c":14},{"t":72.4,"c":24},{"t":72.6,"c":20},{"t":72.8,"c":18},{"t":73,"c":26},{"t":73.2,"c":16},{"t":73.4,"c":21},{"t":73.6,"c":28},{"t":73.8,"c":19},{"t":74,"c":23},{"t":74.2,"c":13},{"t":74.4,"c":20},{"t":74.6,"c":25},{"t":74.8,"c":17},{"t":75,"c":22},{"t":75.2,"c":32},{"t":75.4,"c":18},{"t":75.6,"c":24},{"t":75.8,"c":15},{"t":76,"c":21},{"t":76.2,"c":19},{"t":76.4,"c":27},{"t":76.6,"c":16},{"t":76.8,"c":23},{"t":77,"c":20},{"t":77.2,"c":14},{"t":77.4,"c":26},{"t":77.6,"c":18},{"t":77.8,"c":22},{"t":78,"c":29},{"t":78.2,"c":17},{"t":78.4,"c":21},{"t":78.6,"c":24},{"t":78.8,"c":13},{"t":79,"c":20},{"t":79.2,"c":25},{"t":79.4,"c":18},{"t":79.6,"c":23},{"t":79.8,"c":16},{"t":80,"c":21},
{"t":52.1,"c":21},{"t":52.6,"c":26},{"t":53.1,"c":17},{"t":53.6,"c":24},{"t":54.1,"c":19},{"t":54.6,"c":28},{"t":55.1,"c":22},{"t":55.6,"c":15},{"t":56.1,"c":25},{"t":56.6,"c":20},{"t":57.1,"c":30},{"t":57.6,"c":18},{"t":58.1,"c":23},{"t":58.6,"c":16},{"t":59.1,"c":27},{"t":59.6,"c":21},{"t":60.1,"c":19},{"t":60.6,"c":25},{"t":61.1,"c":14},{"t":61.6,"c":24},{"t":62.1,"c":20},{"t":62.6,"c":28},{"t":63.1,"c":17},{"t":63.6,"c":22},{"t":64.1,"c":26},{"t":64.6,"c":15},{"t":65.1,"c":23},{"t":65.6,"c":19},{"t":66.1,"c":29},{"t":66.6,"c":21},{"t":67.1,"c":16},{"t":67.6,"c":25},{"t":68.1,"c":20},{"t":68.6,"c":23},{"t":69.1,"c":18},{"t":69.6,"c":27},{"t":70.1,"c":14},{"t":70.6,"c":22},{"t":71.1,"c":26},{"t":71.6,"c":19},{"t":72.1,"c":21},{"t":72.6,"c":16},{"t":73.1,"c":28},{"t":73.6,"c":20},{"t":74.1,"c":24},{"t":74.6,"c":18},{"t":75.1,"c":15},{"t":75.6,"c":26},{"t":76.1,"c":22},{"t":76.6,"c":19},{"t":77.1,"c":29},{"t":77.6,"c":17},{"t":78.1,"c":24},{"t":78.6,"c":20},{"t":79.1,"c":16},{"t":79.6,"c":27}],
"st_d": [{"t":31.85,"c":2},{"t":31.92,"c":10},{"t":32,"c":40},{"t":32.05,"c":110},{"t":32.1,"c":250},{"t":32.2,"c":600},{"t":32.3,"c":1250},{"t":32.4,"c":2100},{"t":32.5,"c":3300},{"t":32.65,"c":5000},{"t":32.8,"c":6800},{"t":32.95,"c":8200},{"t":33.1,"c":9200},{"t":33.25,"c":9800},{"t":33.4,"c":10000},{"t":33.55,"c":9800},{"t":33.7,"c":9300},{"t":33.85,"c":8600},{"t":34,"c":7800},{"t":34.2,"c":6700},{"t":34.4,"c":5700},{"t":34.6,"c":4800},{"t":34.8,"c":4050},{"t":35,"c":3450},{"t":35.2,"c":2950},{"t":35.4,"c":2600},{"t":35.6,"c":2350},{"t":35.8,"c":2150},{"t":36.1,"c":1650},{"t":36.4,"c":1300},{"t":36.7,"c":1020},{"t":37,"c":820},{"t":37.3,"c":660},{"t":37.6,"c":540},{"t":37.9,"c":440},{"t":38.2,"c":350},{"t":38.5,"c":280},{"t":38.8,"c":220},{"t":39.1,"c":175},{"t":39.4,"c":140},{"t":39.7,"c":112},{"t":40,"c":92},{"t":40.3,"c":76},{"t":40.6,"c":62},{"t":40.9,"c":51},{"t":41.2,"c":43},{"t":41.5,"c":36},{"t":41.8,"c":31},{"t":42.1,"c":27},{"t":42.4,"c":24},{"t":42.7,"c":21}],
"st": [{"t":20,"c":2},{"t":20.5,"c":2},{"t":21,"c":2},{"t":21.5,"c":2},{"t":22,"c":2},{"t":22.5,"c":2},{"t":23,"c":2},{"t":23.5,"c":2},{"t":24,"c":2},{"t":24.5,"c":2},{"t":25,"c":2},{"t":25.5,"c":2},{"t":26,"c":2},{"t":26.5,"c":2},{"t":27,"c":2},{"t":27.5,"c":2},{"t":28,"c":2},{"t":28.5,"c":2},{"t":29,"c":2},{"t":29.5,"c":2},{"t":30,"c":2},{"t":30.5,"c":2},{"t":31,"c":2},{"t":31.5,"c":2},{"t":20,"c":3},{"t":20.5,"c":3},{"t":21,"c":3},{"t":21.5,"c":3},{"t":22,"c":3},{"t":22.5,"c":3},{"t":23,"c":3},{"t":23.5,"c":3},{"t":24,"c":3},{"t":24.5,"c":3},{"t":25,"c":3},{"t":25.5,"c":3},{"t":26,"c":3},{"t":26.5,"c":3},{"t":27,"c":3},{"t":27.5,"c":3},{"t":28,"c":3},{"t":28.5,"c":3},{"t":29,"c":3},{"t":29.5,"c":3},{"t":30,"c":3},{"t":31.8,"c":3},{"t":20.3,"c":4},{"t":21.6,"c":4},{"t":22.1,"c":4},{"t":22.6,"c":4},{"t":23.5,"c":4},{"t":24,"c":4},{"t":25.9,"c":4},{"t":26.4,"c":4},{"t":31.8,"c":4},{"t":30.4,"c":5},{"t":30.9,"c":5},{"t":31.4,"c":5},{"t":31.8,"c":5},{"t":30.4,"c":6},{"t":30.9,"c":6},{"t":31.5,"c":6},{"t":31.7,"c":7},{"t":31.6,"c":8},
{"t":40.5,"c":70},{"t":40.8,"c":45},{"t":41,"c":60},{"t":41.3,"c":33},{"t":41.6,"c":45},{"t":41.9,"c":25},{"t":42.2,"c":35},{"t":42.5,"c":18},{"t":42.8,"c":28},{"t":43,"c":16},{"t":43.2,"c":22},{"t":43.5,"c":14},{"t":43.7,"c":19},{"t":44,"c":13},{"t":44.2,"c":17},{"t":44.5,"c":12},{"t":44.8,"c":15},{"t":45.1,"c":13},{"t":45.4,"c":11},{"t":45.7,"c":14},{"t":46,"c":12},{"t":46.3,"c":10},{"t":46.6,"c":13},{"t":47,"c":11},{"t":47.3,"c":9},{"t":47.6,"c":12},
{"t":42.6,"c":12},{"t":43.1,"c":12},{"t":43.6,"c":12},{"t":44.1,"c":12},{"t":44.6,"c":12},{"t":45.1,"c":12},{"t":45.6,"c":12},{"t":46.1,"c":12},{"t":43.4,"c":11},{"t":43.9,"c":11},{"t":44.4,"c":11},{"t":45.4,"c":11},{"t":46.4,"c":11},{"t":46.9,"c":11},{"t":47.4,"c":11},{"t":47.9,"c":11},{"t":48.9,"c":11},{"t":49.9,"c":11},{"t":43.3,"c":10},{"t":44.3,"c":10},{"t":45.3,"c":10},{"t":46.3,"c":10},{"t":46.8,"c":10},{"t":47.8,"c":10},{"t":48.3,"c":10},{"t":49.3,"c":10},{"t":50.3,"c":10},{"t":44.8,"c":9},{"t":46.5,"c":9},{"t":47,"c":9},{"t":47.5,"c":9},{"t":48.5,"c":9},{"t":49,"c":9},{"t":50,"c":9},
{"t":46.3,"c":8},{"t":46.8,"c":8},{"t":47.3,"c":8},{"t":47.8,"c":8},{"t":48.3,"c":8},{"t":48.8,"c":8},{"t":49.3,"c":8},{"t":49.8,"c":8},{"t":50.3,"c":8},{"t":51,"c":8},{"t":51.5,"c":8},{"t":52.2,"c":8},{"t":52.8,"c":8},{"t":53.5,"c":8},{"t":56.6,"c":8},{"t":60.2,"c":8},{"t":66,"c":8},{"t":72.5,"c":8},{"t":77.5,"c":8},
{"t":46.6,"c":7},{"t":47.1,"c":7},{"t":47.6,"c":7},{"t":48.1,"c":7},{"t":48.6,"c":7},{"t":49.6,"c":7},{"t":50.1,"c":7},{"t":50.6,"c":7},{"t":51.3,"c":7},{"t":52,"c":7},{"t":52.5,"c":7},{"t":53.3,"c":7},{"t":54,"c":7},{"t":55.8,"c":7},{"t":58.9,"c":7},{"t":62,"c":7},{"t":64.8,"c":7},{"t":69.3,"c":7},{"t":74,"c":7},{"t":78.6,"c":7},
{"t":46.5,"c":6},{"t":47,"c":6},{"t":47.5,"c":6},{"t":48,"c":6},{"t":48.5,"c":6},{"t":49.5,"c":6},{"t":50,"c":6},{"t":50.5,"c":6},{"t":51.2,"c":6},{"t":51.9,"c":6},{"t":52.6,"c":6},{"t":53.4,"c":6},{"t":54.1,"c":6},{"t":55.5,"c":6},{"t":57.7,"c":6},{"t":61,"c":6},{"t":63.8,"c":6},{"t":67.9,"c":6},{"t":71.5,"c":6},{"t":74.8,"c":6},{"t":77.9,"c":6},{"t":79.6,"c":6},
{"t":46.3,"c":5},{"t":46.8,"c":5},{"t":47.3,"c":5},{"t":47.8,"c":5},{"t":48.3,"c":5},{"t":48.8,"c":5},{"t":49.3,"c":5},{"t":49.8,"c":5},{"t":50.3,"c":5},{"t":50.8,"c":5},{"t":51.3,"c":5},{"t":51.8,"c":5},{"t":52.3,"c":5},{"t":52.8,"c":5},{"t":53.3,"c":5},{"t":53.8,"c":5},{"t":54.3,"c":5},{"t":54.8,"c":5},{"t":56,"c":5},{"t":57,"c":5},{"t":57.5,"c":5},{"t":58.6,"c":5},{"t":59.8,"c":5},{"t":60.3,"c":5},{"t":61.6,"c":5},{"t":62.8,"c":5},{"t":63.3,"c":5},{"t":64.7,"c":5},{"t":65.9,"c":5},{"t":66.5,"c":5},{"t":67.8,"c":5},{"t":68.9,"c":5},{"t":69.4,"c":5},{"t":70.7,"c":5},{"t":71.8,"c":5},{"t":72.4,"c":5},{"t":73.6,"c":5},{"t":74.9,"c":5},{"t":75.5,"c":5},{"t":76.8,"c":5},{"t":77.3,"c":5},{"t":78.5,"c":5},{"t":79.7,"c":5},
{"t":46.8,"c":4},{"t":47.4,"c":4},{"t":48.4,"c":4},{"t":49,"c":4},{"t":49.5,"c":4},{"t":50,"c":4},{"t":50.5,"c":4},{"t":51,"c":4},{"t":52,"c":4},{"t":52.5,"c":4},{"t":53,"c":4},{"t":53.5,"c":4},{"t":54,"c":4},{"t":54.5,"c":4},{"t":55,"c":4},{"t":55.5,"c":4},{"t":56,"c":4},{"t":56.5,"c":4},{"t":57,"c":4},{"t":57.5,"c":4},{"t":58.5,"c":4},{"t":59,"c":4},{"t":59.5,"c":4},{"t":60,"c":4},{"t":60.5,"c":4},{"t":61,"c":4},{"t":61.5,"c":4},{"t":62,"c":4},{"t":62.5,"c":4},{"t":63,"c":4},{"t":63.5,"c":4},{"t":64,"c":4},{"t":64.5,"c":4},{"t":65,"c":4},{"t":65.5,"c":4},{"t":66,"c":4},{"t":67,"c":4},{"t":67.5,"c":4},{"t":68,"c":4},{"t":68.5,"c":4},{"t":69,"c":4},{"t":69.5,"c":4},{"t":70,"c":4},{"t":70.5,"c":4},{"t":71,"c":4},{"t":71.5,"c":4},{"t":72.5,"c":4},{"t":73,"c":4},{"t":73.5,"c":4},{"t":74,"c":4},{"t":74.5,"c":4},{"t":75,"c":4},{"t":75.5,"c":4},{"t":76,"c":4},{"t":77,"c":4},{"t":77.5,"c":4},{"t":78,"c":4},{"t":78.5,"c":4},{"t":79,"c":4},{"t":79.5,"c":4},{"t":80,"c":4},
{"t":47,"c":3},{"t":47.5,"c":3},{"t":48,"c":3},{"t":48.5,"c":3},{"t":49,"c":3},{"t":49.5,"c":3},{"t":50,"c":3},{"t":50.5,"c":3},{"t":51,"c":3},{"t":51.5,"c":3},{"t":52,"c":3},{"t":52.5,"c":3},{"t":53,"c":3},{"t":53.5,"c":3},{"t":54,"c":3},{"t":54.5,"c":3},{"t":55,"c":3},{"t":55.5,"c":3},{"t":56,"c":3},{"t":56.5,"c":3},{"t":57,"c":3},{"t":57.5,"c":3},{"t":58,"c":3},{"t":58.5,"c":3},{"t":59,"c":3},{"t":59.5,"c":3},{"t":60,"c":3},{"t":60.5,"c":3},{"t":61,"c":3},{"t":61.5,"c":3},{"t":62,"c":3},{"t":62.5,"c":3},{"t":63,"c":3},{"t":63.5,"c":3},{"t":64,"c":3},{"t":64.5,"c":3},{"t":65,"c":3},{"t":65.5,"c":3},{"t":66,"c":3},{"t":66.5,"c":3},{"t":67,"c":3},{"t":67.5,"c":3},{"t":68,"c":3},{"t":68.5,"c":3},{"t":69,"c":3},{"t":69.5,"c":3},{"t":70,"c":3},{"t":70.5,"c":3},{"t":71,"c":3},{"t":71.5,"c":3},{"t":72,"c":3},{"t":72.5,"c":3},{"t":73,"c":3},{"t":73.5,"c":3},{"t":74,"c":3},{"t":74.5,"c":3},{"t":75,"c":3},{"t":75.5,"c":3},{"t":76,"c":3},{"t":76.5,"c":3},{"t":77,"c":3},{"t":77.5,"c":3},{"t":78,"c":3},{"t":78.5,"c":3},{"t":79,"c":3},{"t":79.5,"c":3},{"t":80,"c":3},
{"t":46.5,"c":2},{"t":47.7,"c":2},{"t":48.8,"c":2},{"t":49.6,"c":2},{"t":50.5,"c":2},{"t":51.5,"c":2},{"t":52,"c":2},{"t":52.5,"c":2},{"t":53,"c":2},{"t":53.5,"c":2},{"t":54,"c":2},{"t":54.5,"c":2},{"t":55,"c":2},{"t":55.5,"c":2},{"t":56,"c":2},{"t":56.5,"c":2},{"t":57,"c":2},{"t":57.5,"c":2},{"t":58,"c":2},{"t":58.5,"c":2},{"t":59,"c":2},{"t":59.5,"c":2},{"t":60,"c":2},{"t":60.5,"c":2},{"t":61,"c":2},{"t":61.5,"c":2},{"t":62,"c":2},{"t":62.5,"c":2},{"t":63,"c":2},{"t":63.5,"c":2},{"t":64,"c":2},{"t":64.5,"c":2},{"t":65,"c":2},{"t":65.5,"c":2},{"t":66,"c":2},{"t":66.5,"c":2},{"t":67,"c":2},{"t":67.5,"c":2},{"t":68,"c":2},{"t":68.5,"c":2},{"t":69,"c":2},{"t":69.5,"c":2},{"t":70,"c":2},{"t":70.5,"c":2},{"t":71,"c":2},{"t":71.5,"c":2},{"t":72,"c":2},{"t":72.5,"c":2},{"t":73,"c":2},{"t":73.5,"c":2},{"t":74,"c":2},{"t":74.5,"c":2},{"t":75,"c":2},{"t":75.5,"c":2},{"t":76,"c":2},{"t":76.5,"c":2},{"t":77,"c":2},{"t":77.5,"c":2},{"t":78,"c":2},{"t":78.5,"c":2},{"t":79,"c":2},{"t":79.5,"c":2},{"t":80,"c":2}]
},
"encoding": {
 "x": {"field": "t", "type": "quantitative", "scale": {"domain": [20, 80], "nice": false, "zero": false}, "axis": null},
 "y": {"field": "c", "type": "quantitative", "scale": {"type": "log", "domain": [1, 30000], "nice": false}, "axis": null}
},
"layer": [
 {"data": {"name": "irf_d"}, "mark": {"type": "line", "strokeWidth": 5, "color": "#bdbdbd", "clip": true, "point": {"filled": true, "shape": "M-1.2,-1H1.2V1H-1.2Z", "size": 24, "color": "#bdbdbd"}}},
 {"data": {"name": "irf"},
  "mark": {"type": "point", "shape": "M-1.2,-1H1.2V1H-1.2Z", "filled": true, "size": 24, "opacity": 1, "strokeWidth": 0, "clip": true},
  "encoding": {
   "x": {"field": "t", "type": "quantitative", "scale": {"domain": [20, 80], "nice": false, "zero": false},
         "axis": {"orient": "bottom", "values": [20,30,40,50,60,70,80], "tickSize": 9, "labelFontSize": 27, "labelPadding": 3, "title": "Time (ns)", "titleFontSize": 35, "titlePadding": 15, "labelFlush": false, "labelOverlap": false}},
   "y": {"field": "c", "type": "quantitative", "scale": {"type": "log", "domain": [1, 30000], "nice": false},
         "axis": {"orient": "left", "values": [1,10,100,1000,10000], "tickSize": 9, "labelFontSize": 28, "labelPadding": 5, "labelExpr": "'10' + ['⁰','¹','²','³','⁴'][round(log(datum.value)/LN10)]", "title": "Counts", "titleFontSize": 35, "titlePadding": 14, "labelOverlap": false}},
   "color": {"datum": "IRF", "type": "nominal",
     "scale": {"domain": ["IRF","Vy₄HC-coPh","Vy₄HC-coBiph","Vy₄HC-coTerPh","Vy₄HC-coStil","Vy₄HC-coThio","Vy₄HC(BiPh)₄","Vy₄HC(Still)₄"],
               "range": ["#bdbdbd","#08306b","#2171b5","#6baed6","#c6dbef","#fcbba1","#fb6a4a","#ef3b2c"]},
     "legend": {"orient": "none", "legendX": 449, "legendY": 12, "title": null, "symbolType": "square", "symbolSize": 169, "symbolOpacity": 1, "symbolStrokeWidth": 0, "labelFont": "Liberation Sans", "labelFontSize": 18, "labelColor": "black", "labelOffset": 23, "rowPadding": 10.5, "padding": 0, "labelLimit": 300,
       "encode": {"symbols": {"update": {"shape": {"value": "square"}}}, "labels": {"update": {"fontStyle": {"signal": "datum.label === 'IRF' ? 'normal' : 'italic'"}, "fontWeight": {"signal": "datum.label === 'IRF' ? 'normal' : 'bold'"}}}}}}
  }},
 {"data": {"name": "ph_d"}, "mark": {"type": "line", "strokeWidth": 5, "color": "#08306b", "clip": true, "point": {"filled": true, "shape": "M-1.2,-1H1.2V1H-1.2Z", "size": 24, "color": "#08306b"}}},
 {"data": {"name": "ph"},
  "mark": {"type": "point", "shape": "M-1.2,-1H1.2V1H-1.2Z", "filled": true, "size": 24, "opacity": 1, "strokeWidth": 0, "clip": true},
  "encoding": {
   "x": {"field": "t", "type": "quantitative", "scale": {"domain": [20, 80], "nice": false, "zero": false},
         "axis": {"orient": "bottom", "values": [22,24,26,28,32,34,36,38,42,44,46,48,52,54,56,58,62,64,66,68,72,74,76,78], "tickSize": 6, "labels": false, "domain": false, "title": null}},
   "y": {"field": "c", "type": "quantitative", "scale": {"type": "log", "domain": [1, 30000], "nice": false},
         "axis": {"orient": "left", "values": [2,3,4,5,6,7,8,9,20,30,40,50,60,70,80,90,200,300,400,500,600,700,800,900,2000,3000,4000,5000,6000,7000,8000,9000,20000,30000], "tickSize": 6, "labels": false, "domain": false, "title": null}},
   "color": {"datum": "Vy₄HC-coPh", "type": "nominal"}
  }},
 {"data": {"name": "bi_d"}, "mark": {"type": "line", "strokeWidth": 5, "color": "#2171b5", "clip": true, "point": {"filled": true, "shape": "M-1.2,-1H1.2V1H-1.2Z", "size": 24, "color": "#2171b5"}}},
 {"data": {"name": "bi"}, "mark": {"type": "point", "shape": "M-1.2,-1H1.2V1H-1.2Z", "filled": true, "size": 24, "opacity": 1, "strokeWidth": 0, "clip": true}, "encoding": {"color": {"datum": "Vy₄HC-coBiph", "type": "nominal"}}},
 {"data": {"name": "te_d"}, "mark": {"type": "line", "strokeWidth": 5, "color": "#6baed6", "clip": true, "point": {"filled": true, "shape": "M-1.2,-1H1.2V1H-1.2Z", "size": 24, "color": "#6baed6"}}},
 {"data": {"name": "te"}, "mark": {"type": "point", "shape": "M-1.2,-1H1.2V1H-1.2Z", "filled": true, "size": 24, "opacity": 1, "strokeWidth": 0, "clip": true}, "encoding": {"color": {"datum": "Vy₄HC-coTerPh", "type": "nominal"}}},
 {"data": {"name": "sl_d"}, "mark": {"type": "line", "strokeWidth": 5, "color": "#c6dbef", "clip": true, "point": {"filled": true, "shape": "M-1.2,-1H1.2V1H-1.2Z", "size": 24, "color": "#c6dbef"}}},
 {"data": {"name": "sl"}, "mark": {"type": "point", "shape": "M-1.2,-1H1.2V1H-1.2Z", "filled": true, "size": 24, "opacity": 1, "strokeWidth": 0, "clip": true}, "encoding": {"color": {"datum": "Vy₄HC-coStil", "type": "nominal"}}},
 {"data": {"name": "th_d"}, "mark": {"type": "line", "strokeWidth": 5, "color": "#fcbba1", "clip": true, "point": {"filled": true, "shape": "M-1.2,-1H1.2V1H-1.2Z", "size": 24, "color": "#fcbba1"}}},
 {"data": {"name": "th"}, "mark": {"type": "point", "shape": "M-1.2,-1H1.2V1H-1.2Z", "filled": true, "size": 24, "opacity": 1, "strokeWidth": 0, "clip": true}, "encoding": {"color": {"datum": "Vy₄HC-coThio", "type": "nominal"}}},
 {"data": {"name": "b4_d"}, "mark": {"type": "line", "strokeWidth": 5, "color": "#fb6a4a", "clip": true, "point": {"filled": true, "shape": "M-1.2,-1H1.2V1H-1.2Z", "size": 24, "color": "#fb6a4a"}}},
 {"data": {"name": "b4"}, "mark": {"type": "point", "shape": "M-1.2,-1H1.2V1H-1.2Z", "filled": true, "size": 24, "opacity": 1, "strokeWidth": 0, "clip": true}, "encoding": {"color": {"datum": "Vy₄HC(BiPh)₄", "type": "nominal"}}},
 {"data": {"name": "st_d"}, "mark": {"type": "line", "strokeWidth": 5, "color": "#ef3b2c", "clip": true, "point": {"filled": true, "shape": "M-1.2,-1H1.2V1H-1.2Z", "size": 24, "color": "#ef3b2c"}}},
 {"data": {"name": "st"}, "mark": {"type": "point", "shape": "M-1.2,-1H1.2V1H-1.2Z", "filled": true, "size": 24, "opacity": 1, "strokeWidth": 0, "clip": true}, "encoding": {"color": {"datum": "Vy₄HC(Still)₄", "type": "nominal"}}}
],
"resolve": {"axis": {"x": "independent", "y": "independent"}}
}
